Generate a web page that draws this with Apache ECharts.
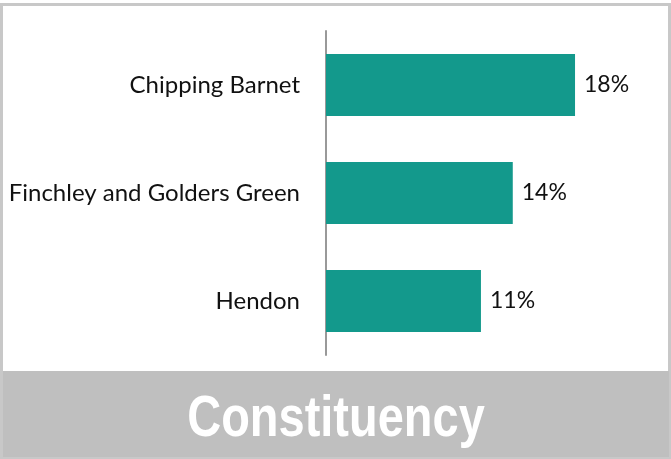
<!DOCTYPE html>
<html>
<head>
<meta charset="utf-8">
<script src="https://cdn.jsdelivr.net/npm/echarts@6/dist/echarts.min.js"></script>
<style>
  html, body { margin: 0; padding: 0; background: #fff; }
  #chart { width: 671px; height: 459px; }
</style>
</head>
<body>
<div id="chart"></div>
<script>
// datos del gráfico
var constituencies = ['Chipping Barnet', 'Finchley and Golders Green', 'Hendon'];
var shares = [18.0, 13.5, 11.2];
var bandTitle = 'Constituency';

var chart = echarts.init(document.getElementById('chart'));

var option = {
    animation: false,
    grid: {
        left: 326,
        right: 68.3,
        top: 31,
        bottom: 104
    },
    xAxis: {
        type: 'value',
        min: 0,
        max: 20,
        show: false
    },
    yAxis: {
        type: 'category',
        inverse: true,
        data: constituencies,
        axisLine: { show: true, lineStyle: { color: '#999999', width: 2 } },
        axisTick: { show: false },
        axisLabel: {
            margin: 26,
            fontFamily: 'Lato',
            fontSize: 24,
            color: '#111111'
        }
    },
    series: [{
        type: 'bar',
        data: shares,
        barWidth: 62,
        itemStyle: { color: '#13998c' },
        label: {
            show: true,
            position: 'right',
            distance: 9,
            fontFamily: 'Lato',
            fontSize: 23,
            color: '#111111',
            formatter: function (p) { return Math.round(p.value) + '%'; }
        }
    }],
    graphic: [
        // marco exterior
        {
            type: 'rect',
            shape: { x: 1.5, y: 4.5, width: 668, height: 453 },
            style: { fill: null, stroke: '#c8c8c8', lineWidth: 3 },
            silent: true
        },
        // banda gris inferior
        {
            type: 'rect',
            shape: { x: 3, y: 371, width: 666, height: 86 },
            style: { fill: '#bfbfbf' },
            silent: true
        },
        {
            type: 'text',
            x: 336,
            y: 420,
            scaleX: 0.81,
            style: {
                text: bandTitle,
                fill: '#ffffff',
                font: 'bold 58px "Liberation Sans", Arial, sans-serif',
                textAlign: 'center',
                textVerticalAlign: 'middle'
            },
            silent: true
        }
    ]
};

chart.setOption(option);
</script>
</body>
</html>
